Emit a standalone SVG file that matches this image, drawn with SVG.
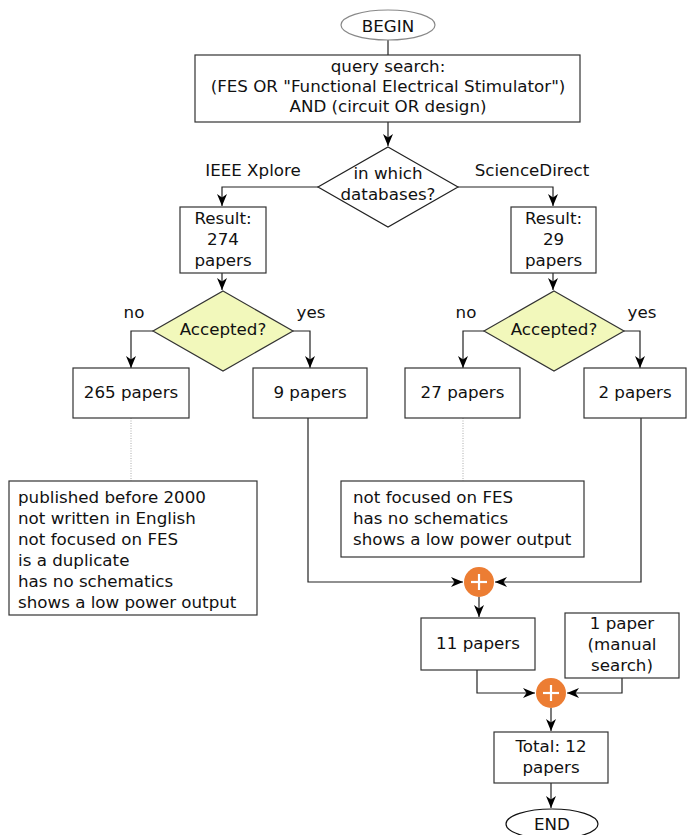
<svg xmlns="http://www.w3.org/2000/svg" width="687" height="835" viewBox="0 0 687 835">
<defs>
<marker id="arr" markerUnits="userSpaceOnUse" markerWidth="14" markerHeight="12" refX="12" refY="5" orient="auto">
<path d="M0,0 L12,5 L0,10 L3.5,5 z" fill="#000"/>
</marker>
</defs>
<style>
text{font-family:"DejaVu Sans","Verdana",sans-serif;font-size:16.7px;fill:#111}
.c{text-anchor:middle}
.box{fill:#fff;stroke:#333;stroke-width:1.2}
.dia{fill:#fff;stroke:#222;stroke-width:1.2}
.acc{fill:#f2f8bb;stroke:#333;stroke-width:1.2}
.ln{fill:none;stroke:#222;stroke-width:1.2}
.ar{fill:none;stroke:#222;stroke-width:1.2;marker-end:url(#arr)}
.dot{fill:none;stroke:#aaa;stroke-width:1;stroke-dasharray:1,1.5}
.plus{fill:#ec7d33}
.pl{stroke:#fff;stroke-width:2.2}
</style>
<g id="connectors">
<line class="ln" x1="388" y1="40" x2="388" y2="55"/>
<line class="ar" x1="388" y1="122" x2="388" y2="146"/>
<polyline class="ar" points="318,187 222,187 222,206"/>
<polyline class="ar" points="458,187 553,187 553,206"/>
<line class="ar" x1="222" y1="273" x2="222" y2="290"/>
<line class="ar" x1="553" y1="273" x2="553" y2="290"/>
<polyline class="ar" points="153,331 131,331 131,368"/>
<polyline class="ar" points="293,331 310,331 310,368"/>
<polyline class="ar" points="484,331 463,331 463,368"/>
<polyline class="ar" points="624,331 640,331 640,368"/>
<line class="dot" x1="131" y1="418" x2="131" y2="481"/>
<line class="dot" x1="463" y1="418" x2="463" y2="481"/>
<polyline class="ar" points="308,418 308,582 463,582"/>
<polyline class="ar" points="641,418 641,582 495,582"/>
<line class="ar" x1="479" y1="597" x2="479" y2="617"/>
<polyline class="ar" points="477,670 477,693 535,693"/>
<polyline class="ar" points="622,678 622,693 567,693"/>
<line class="ar" x1="551" y1="708" x2="551" y2="731"/>
<line class="ar" x1="551" y1="783" x2="551" y2="808"/>
</g>
<g id="begin">
<ellipse cx="388" cy="25" rx="47" ry="15" fill="#fff" stroke="#888" stroke-width="1.2"/>
<text class="c" x="388" y="32">BEGIN</text>
</g>
<g id="query">
<rect class="box" x="195" y="55" width="385" height="67"/>
<text class="c" x="388" y="72">query search:</text>
<text class="c" x="388" y="92">(FES OR "Functional Electrical Stimulator")</text>
<text class="c" x="388" y="112">AND (circuit OR design)</text>
</g>
<g id="databases">
<polygon class="dia" points="388,147 458,187 388,227 318,187"/>
<text class="c" x="388" y="179">in which</text>
<text class="c" x="388" y="200">databases?</text>
</g>
<g id="label-ieee"><text class="c" x="253" y="176">IEEE Xplore</text></g>
<g id="label-sd"><text class="c" x="532" y="176">ScienceDirect</text></g>
<g id="result-ieee">
<rect class="box" x="180" y="207" width="86" height="66"/>
<text class="c" x="223" y="224">Result:</text>
<text class="c" x="223" y="245">274</text>
<text class="c" x="223" y="266">papers</text>
</g>
<g id="result-sd">
<rect class="box" x="511" y="207" width="85" height="66"/>
<text class="c" x="553.5" y="224">Result:</text>
<text class="c" x="553.5" y="245">29</text>
<text class="c" x="553.5" y="266">papers</text>
</g>
<g id="accepted-ieee">
<polygon class="acc" points="223,291 293,331 223,371 153,331"/>
<text class="c" x="223" y="335">Accepted?</text>
</g>
<g id="accepted-sd">
<polygon class="acc" points="554,291 624,331 554,371 484,331"/>
<text class="c" x="554" y="335">Accepted?</text>
</g>
<g id="labels-yn">
<text class="c" x="134" y="318">no</text>
<text class="c" x="311" y="318">yes</text>
<text class="c" x="466" y="318">no</text>
<text class="c" x="642" y="318">yes</text>
</g>
<g id="p265">
<rect class="box" x="73" y="368" width="116" height="50"/>
<text class="c" x="131" y="398">265 papers</text>
</g>
<g id="p9">
<rect class="box" x="253" y="368" width="114" height="50"/>
<text class="c" x="310" y="398">9 papers</text>
</g>
<g id="p27">
<rect class="box" x="405" y="368" width="115" height="50"/>
<text class="c" x="462.5" y="398">27 papers</text>
</g>
<g id="p2">
<rect class="box" x="584" y="368" width="102" height="50"/>
<text class="c" x="635" y="398">2 papers</text>
</g>
<g id="criteria-ieee">
<rect class="box" x="9" y="481" width="248" height="134"/>
<text x="18" y="503">published before 2000</text>
<text x="18" y="524">not written in English</text>
<text x="18" y="545">not focused on FES</text>
<text x="18" y="566">is a duplicate</text>
<text x="18" y="587">has no schematics</text>
<text x="18" y="608">shows a low power output</text>
</g>
<g id="criteria-sd">
<rect class="box" x="341" y="481" width="243" height="76"/>
<text x="353" y="503">not focused on FES</text>
<text x="353" y="524">has no schematics</text>
<text x="353" y="545">shows a low power output</text>
</g>
<g id="plus1">
<circle class="plus" cx="479" cy="582" r="15"/>
<line class="pl" x1="471" y1="582" x2="487" y2="582"/>
<line class="pl" x1="479" y1="574" x2="479" y2="590"/>
</g>
<g id="p11">
<rect class="box" x="421" y="618" width="114" height="52"/>
<text class="c" x="478" y="649">11 papers</text>
</g>
<g id="manual">
<rect class="box" x="565" y="613" width="114" height="65"/>
<text class="c" x="622" y="629">1 paper</text>
<text class="c" x="622" y="650">(manual</text>
<text class="c" x="622" y="671">search)</text>
</g>
<g id="plus2">
<circle class="plus" cx="551" cy="693" r="15"/>
<line class="pl" x1="543" y1="693" x2="559" y2="693"/>
<line class="pl" x1="551" y1="685" x2="551" y2="701"/>
</g>
<g id="total">
<rect class="box" x="494" y="732" width="114" height="51"/>
<text class="c" x="551" y="752">Total: 12</text>
<text class="c" x="551" y="773">papers</text>
</g>
<g id="end">
<ellipse cx="552" cy="824" rx="46" ry="15" fill="#fff" stroke="#111" stroke-width="1.2"/>
<text class="c" x="552" y="830">END</text>
</g>
</svg>
